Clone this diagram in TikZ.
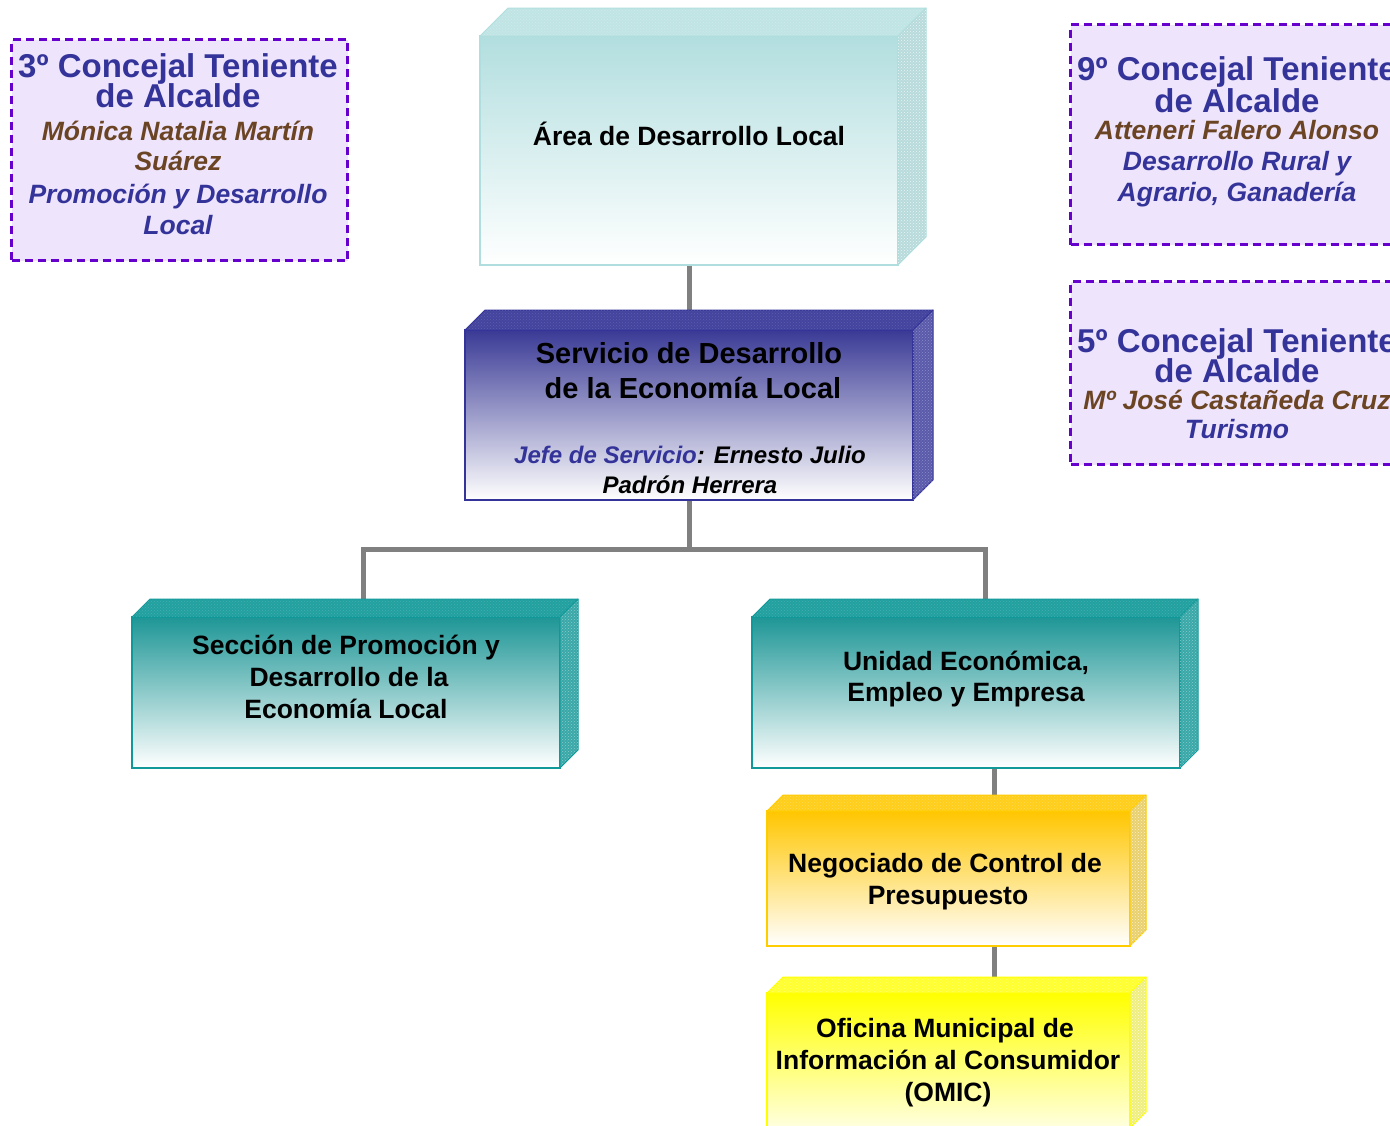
\documentclass[tikz,border=0pt]{standalone}
\usepackage{fontspec}
\setmainfont{Liberation Sans}
\usetikzlibrary{patterns}
% colours
\definecolor{areagrad}{HTML}{B2DEDF}\definecolor{areabot}{HTML}{FFFFFF}\definecolor{arealine}{HTML}{B0DEDE}
\definecolor{areatop}{HTML}{C0E4E4}\definecolor{areaside}{HTML}{B8DADA}\definecolor{areapat}{HTML}{E8F6F6}
\definecolor{servgrad}{HTML}{3A3A96}\definecolor{servbot}{HTML}{FFFFFF}\definecolor{servline}{HTML}{333399}
\definecolor{servtop}{HTML}{44449E}\definecolor{servside}{HTML}{5A5AAA}\definecolor{servpat}{HTML}{8C8CCC}
\definecolor{tealgrad}{HTML}{1E9696}\definecolor{tealbot}{HTML}{FFFFFF}\definecolor{tealline}{HTML}{119999}
\definecolor{tealtop}{HTML}{22A0A0}\definecolor{tealside}{HTML}{3AA8A8}\definecolor{tealpat}{HTML}{88CCCC}
\definecolor{goldgrad}{HTML}{FFC600}\definecolor{goldbot}{HTML}{FFFFFF}\definecolor{goldline}{HTML}{FFCC00}
\definecolor{goldtop}{HTML}{FFCE1A}\definecolor{goldside}{HTML}{E8D070}\definecolor{goldpat}{HTML}{FFF2C0}
\definecolor{yelgrad}{HTML}{FFFF00}\definecolor{yelbot}{HTML}{FFFFE0}\definecolor{yelline}{HTML}{FFFF00}
\definecolor{yeltop}{HTML}{FFFF30}\definecolor{yelside}{HTML}{EEEE80}\definecolor{yelpat}{HTML}{FFFFD0}
\definecolor{dashcol}{HTML}{6600CC}\definecolor{lavfill}{HTML}{EEE5FC}
\definecolor{titleblue}{HTML}{333399}\definecolor{namebrown}{HTML}{6B4424}
\definecolor{conncol}{HTML}{808080}

\newcommand\mkcube[7]{%
  \node[draw=#7line, line width=1.3pt, top color=#7grad, bottom color=#7bot,
        anchor=north west, inner sep=0pt, outer sep=0pt,
        minimum width={(#4-#2)*1pt}, minimum height={(#5-#3)*1pt}] (#1) at (#2,#3) {};
  \filldraw[draw=#7line, line width=1pt, fill=#7top, line join=round]
     (#1.north west) -- ++(#6,-#6) -- ++({#4-#2},0) -- (#1.north east) -- cycle;
  \fill[pattern=crosshatch dots, pattern color=#7pat, opacity=0.35]
     (#1.north west) -- ++(#6,-#6) -- ++({#4-#2},0) -- (#1.north east) -- cycle;
  \filldraw[draw=#7line, line width=1pt, fill=#7side, line join=round]
     (#1.north east) -- ++(#6,-#6) -- ++(0,{#5-#3}) -- (#1.south east) -- cycle;
  \fill[pattern=crosshatch dots, pattern color=#7pat]
     (#1.north east) -- ++(#6,-#6) -- ++(0,{#5-#3}) -- (#1.south east) -- cycle;
}

\tikzset{
  conn/.style={draw=conncol, line width=5pt},
  dbox/.style={draw=dashcol, fill=lavfill, line width=3pt, dash pattern=on 8pt off 5pt,
     anchor=north west, inner sep=0pt},
  ln/.style={anchor=base, inner sep=0pt, align=center},
  ttl/.style={ln, text=titleblue, font=\fontsize{33}{33}\selectfont\bfseries},
  nam/.style={ln, text=namebrown, font=\fontsize{26.5}{26.5}\selectfont\bfseries\itshape},
  fun/.style={ln, text=titleblue, font=\fontsize{26.5}{26.5}\selectfont\bfseries\itshape},
  btx/.style={ln, text=black, font=\fontsize{26.5}{26.5}\selectfont\bfseries},
}

\begin{document}
\begin{tikzpicture}[x=1pt,y=-1pt]
\path[use as bounding box, clip] (0,0) rectangle (1390,1125);

% dashed boxes
\node[dbox, minimum width=336pt, minimum height=221pt] (d3) at (10,38) {};
\node[dbox, minimum width=336pt, minimum height=220pt] (d9) at (1069,23) {};
\node[dbox, minimum width=336pt, minimum height=183pt] (d5) at (1069,280) {};

\node[ttl] (d3a) at (178,77) {3º Concejal Teniente};
\node[ttl] (d3b) at (178,107) {de Alcalde};
\node[nam] (d3c) at (178,140) {Mónica Natalia Martín};
\node[nam] (d3d) at (178,170) {Suárez};
\node[fun] (d3e) at (178,203) {Promoción y Desarrollo};
\node[fun] (d3f) at (178,234) {Local};

\node[ttl] (d9a) at (1237,80) {9º Concejal Teniente};
\node[ttl] (d9b) at (1237,112) {de Alcalde};
\node[nam] (d9c) at (1237,139) {Atteneri Falero Alonso};
\node[fun] (d9d) at (1237,170) {Desarrollo Rural y};
\node[fun] (d9e) at (1237,201) {Agrario, Ganadería};

\node[ttl] (d5a) at (1237,352) {5º Concejal Teniente};
\node[ttl] (d5b) at (1237,382) {de Alcalde};
\node[nam] (d5c) at (1237,409) {Mº José Castañeda Cruz};
\node[fun] (d5d) at (1237,438) {Turismo};

% connector end points
\path (689,265) coordinate (areaS) (689,330) coordinate (servN)
      (689,500) coordinate (servS) (689,549) coordinate (split)
      (363,610) coordinate (seccN) (985,610) coordinate (unidN)
      (994,768) coordinate (unidS) (994,811) coordinate (negN) (994,946) coordinate (negS)
      (994,993) coordinate (ofiN);
\draw[conn] (areaS) -- (servN);
\draw[conn] (servS) -- (split) -| (seccN);
\draw[conn] (split) -| (unidN);
\draw[conn] (unidS) -- (negN);
\draw[conn] (negS) -- (ofiN);

% cubes
\mkcube{area}{480}{36}{898}{265}{28}{area}
\mkcube{serv}{465}{330}{913}{500}{20}{serv}
\mkcube{secc}{132}{617}{560}{768}{18}{teal}
\mkcube{unid}{752}{617}{1180}{768}{18}{teal}
\mkcube{neg}{767}{811}{1130}{946}{16}{gold}
\mkcube{ofi}{767}{993}{1130}{1128}{16}{yel}

% texts
\node[btx] (areat) at (689,145) {Área de Desarrollo Local};
\node[btx, font=\fontsize{29}{29}\selectfont\bfseries] (servt1) at (689,363) {Servicio de Desarrollo};
\node[btx, font=\fontsize{29}{29}\selectfont\bfseries] (servt2) at (693,398) {de la Economía Local};
\node[btx, font=\fontsize{24}{24}\selectfont\bfseries\itshape] (servj1) at (690,463) {\textcolor{titleblue}{Jefe de Servicio}: Ernesto Julio};
\node[btx, font=\fontsize{24}{24}\selectfont\bfseries\itshape] (servj2) at (690,493) {Padrón Herrera};

\node[btx] (secct1) at (346,654) {Sección de Promoción y};
\node[btx] (secct2) at (349,686) {Desarrollo de la};
\node[btx] (secct3) at (346,718) {Economía Local};

\node[btx] (unidt1) at (966,670) {Unidad Económica,};
\node[btx] (unidt2) at (966,701) {Empleo y Empresa};

\node[btx] (negt1) at (945,872) {Negociado de Control de};
\node[btx] (negt2) at (948,904) {Presupuesto};

\node[btx] (ofit1) at (945,1037) {Oficina Municipal de};
\node[btx] (ofit2) at (948,1069) {Información al Consumidor};
\node[btx] (ofit3) at (948,1101) {(OMIC)};
\end{tikzpicture}
\end{document}
